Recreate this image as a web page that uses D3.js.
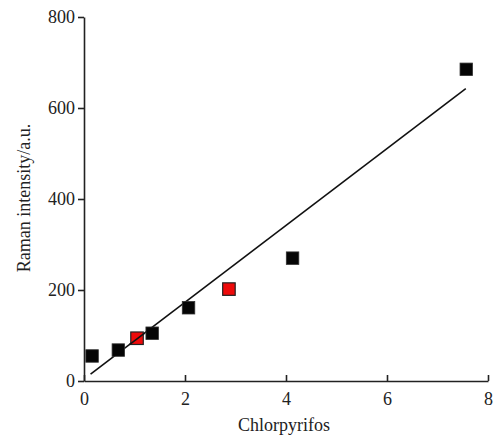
<!DOCTYPE html>
<html>
<head>
<meta charset="utf-8">
<script src="https://cdn.jsdelivr.net/npm/d3@7"></script>
<style>
  html, body { margin: 0; padding: 0; background: #fff; }
  svg text { font-family: "Liberation Serif", "Times New Roman", serif; fill: #222; }
</style>
</head>
<body>
<svg id="canvas" width="494" height="436"></svg>
<script>
// measured points (black) and spiked samples (red)
let blackX = [0.16, 0.68, 1.35, 2.07, 4.13, 7.57]
let blackY = [55, 68, 105, 161, 270, 685]
let redX = [1.05, 2.87]
let redY = [94, 202]

// linear fit
let fitSlope = 84.5
let fitIntercept = 4
let fitStart = 0.13
let fitEnd = 7.56

let xTicks = [0, 2, 4, 6, 8]
let yTicks = [0, 200, 400, 600, 800]

let canvas = d3.select('#canvas')

var margin = {top: 17, right: 6, bottom: 55, left: 84},
    width = 494 - margin.left - margin.right,
    height = 436 - margin.top - margin.bottom

var x = d3.scaleLinear().domain([0, 8]).range([0, width])
var y = d3.scaleLinear().domain([0, 800]).range([height, 0])

let g = canvas.append('g')
  .attr('transform', 'translate(' + margin.left + ',' + margin.top + ')')

// axes
let xAxis = g.append('g')
  .attr('transform', 'translate(0,' + height + ')')
  .call(d3.axisBottom(x).tickValues(xTicks).tickSizeInner(-6).tickSizeOuter(0).tickPadding(11))
let yAxis = g.append('g')
  .call(d3.axisLeft(y).tickValues(yTicks).tickSizeInner(6).tickSizeOuter(0).tickPadding(3))

canvas.selectAll('.domain, .tick line')
  .attr('stroke', '#222')
  .attr('stroke-width', 1.6)
canvas.selectAll('.tick text')
  .style('font-size', '18px')
  .attr('fill', '#222')

// fit line
let line = d3.line().x(d => x(d)).y(d => y(fitSlope * d + fitIntercept))
g.append('path')
  .datum([fitStart, fitEnd])
  .attr('d', line)
  .attr('fill', 'none')
  .attr('stroke', '#111')
  .attr('stroke-width', 1.6)

let size = 12.5

let blackData = blackX.map((v, i) => ({x: v, y: blackY[i]}))
let redData = redX.map((v, i) => ({x: v, y: redY[i]}))

g.selectAll('rect.black')
  .data(blackData)
  .enter()
  .append('rect')
  .attr('class', 'black')
  .attr('x', d => x(d.x) - size / 2)
  .attr('y', d => y(d.y) - size / 2)
  .attr('width', size)
  .attr('height', size)
  .attr('fill', '#050505')
  .attr('stroke', '#333')
  .attr('stroke-width', 0.8)

g.selectAll('rect.red')
  .data(redData)
  .enter()
  .append('rect')
  .attr('class', 'red')
  .attr('x', d => x(d.x) - size / 2)
  .attr('y', d => y(d.y) - size / 2)
  .attr('width', size)
  .attr('height', size)
  .attr('fill', '#ee0a0a')
  .attr('stroke', '#222')
  .attr('stroke-width', 1.2)

// line passes over the first red square in the picture
g.append('path')
  .datum([redX[0] - 0.15, redX[0] + 0.15])
  .attr('d', line)
  .attr('stroke', '#111')
  .attr('stroke-width', 1.6)

// axis titles
canvas.append('text')
  .attr('x', 284)
  .attr('y', 431)
  .attr('text-anchor', 'middle')
  .style('font-size', '18px')
  .text('Chlorpyrifos')

canvas.append('text')
  .attr('transform', 'translate(30,198) rotate(-90)')
  .attr('text-anchor', 'middle')
  .style('font-size', '18px')
  .text('Raman intensity/a.u.')
</script>
</body>
</html>
